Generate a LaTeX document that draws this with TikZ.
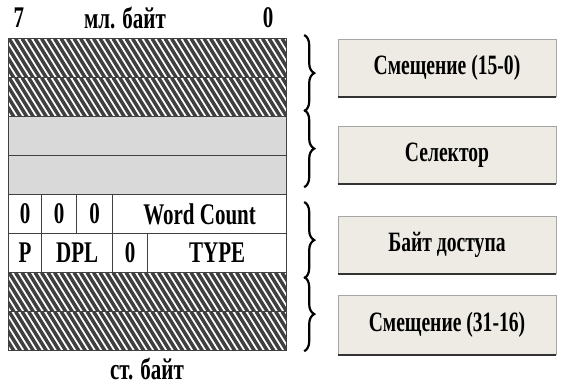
\documentclass[tikz,border=0pt]{standalone}
\usepackage{fontspec}
\setmainfont{Liberation Serif}[FakeStretch=0.7]
\usetikzlibrary{decorations.pathreplacing}

\definecolor{rowgray}{RGB}{217,217,217}
\definecolor{boxfill}{RGB}{237,235,227}

\tikzset{
  row/.style={draw=black!75, line width=0.6pt, minimum width=139pt, minimum height=19.5pt, inner sep=0pt, anchor=north west},
  hatched/.style={row, path picture={
    \foreach \k in {0,...,50}
      \draw[line width=1.75pt] ([xshift=\k*3.25pt-16pt]path picture bounding box.north west) -- ++(13pt,-21pt);}},
  grayrow/.style={row, fill=rowgray},
  cell/.style={draw=black!75, line width=0.6pt, minimum height=19.5pt, inner sep=0pt, anchor=north west, font=\fontsize{15}{16}\selectfont\bfseries},
  lbl/.style={font=\fontsize{15}{16}\selectfont\bfseries},
  infobox/.style={draw=black!35, fill=boxfill, minimum width=109pt, minimum height=28.5pt, inner sep=0pt, font=\fontsize{14}{16}\selectfont\bfseries},
  brace/.style={decorate, decoration={brace, amplitude=5pt}, line width=1.1pt},
}

\begin{document}
\begin{tikzpicture}[x=0.5pt, y=-0.5pt]
\useasboundingbox (0,0) rectangle (563,385);

% byte labels
\node[lbl] (bit7) at (19,18) {7};
\node[lbl] (lo) at (125,18) {мл. байт};
\node[lbl] (bit0) at (268,18) {0};
\node[lbl] (hi) at (147,369) {ст. байт};

% descriptor rows
\node[hatched] (r1) at (8,38) {};
\node[hatched] (r2) at (8,77) {};
\node[grayrow] (r3) at (8,116) {};
\node[grayrow] (r4) at (8,155) {};

\node[cell, minimum width=16.5pt] (z1) at (8,194) {0};
\node[cell, minimum width=17.5pt] (z2) at (41,194) {0};
\node[cell, minimum width=18pt] (z3) at (76,194) {0};
\node[cell, minimum width=87pt] (wc) at (112,194) {Word Count};

\node[cell, minimum width=16.5pt] (p) at (8,233) {P};
\node[cell, minimum width=35.5pt] (dpl) at (41,233) {DPL};
\node[cell, minimum width=17.5pt] (z4) at (112,233) {0};
\node[cell, minimum width=69.5pt] (type) at (147,233) {TYPE};

\node[hatched] (r7) at (8,272) {};
\node[hatched] (r8) at (8,311) {};

% field names
\node[infobox] (off1) at (447,68) {Смещение (15-0)};
\node[infobox] (sel) at (447,155) {Селектор};
\node[infobox] (acc) at (447,245) {Байт доступа};
\node[infobox, minimum height=29.5pt] (off2) at (447,325) {Смещение (31-16)};
\foreach \b in {off1,sel,acc,off2}
  \draw[black!80, line width=0.8pt] (\b.south west) -- (\b.south east);

% braces
\draw[brace] ([xshift=8.5pt,yshift=1.5pt]r1.north east) -- ([xshift=8.5pt,yshift=3pt]r2.south east);
\draw[brace] ([xshift=8.5pt,yshift=3pt]r3.north east) -- ([xshift=8.5pt,yshift=4pt]r4.south east);
\draw[brace] ([xshift=8.5pt,yshift=-4pt]wc.north east) -- ([xshift=8.5pt,yshift=-2.5pt]type.south east);
\draw[brace] ([xshift=8.5pt,yshift=-2.5pt]r7.north east) -- ([xshift=8.5pt]r8.south east);
\end{tikzpicture}
\end{document}
